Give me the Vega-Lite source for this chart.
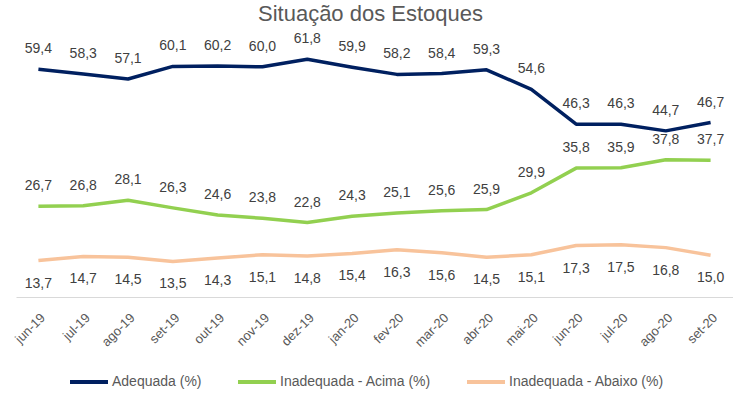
{
  "$schema": "https://vega.github.io/schema/vega-lite/v6.json",
  "width": 717,
  "height": 272,
  "autosize": {"type": "none"},
  "padding": {"left": 16, "top": 25, "right": 0, "bottom": 98},
  "background": "white",
  "title": {"text": "Situação dos Estoques", "fontSize": 22, "color": "#595959", "font": "Liberation Sans", "fontWeight": "normal", "anchor": "middle", "offset": -1, "dx": -4},
  "config": {
    "view": {"stroke": null},
    "locale": {"number": {"decimal": ",", "thousands": ".", "grouping": [3], "currency": ["R$", ""]}},
    "font": "Liberation Sans"
  },
  "data": {"values": [
    {"mes": "jun-19", "serie": "Adequada (%)", "valor": 59.4},
    {"mes": "jul-19", "serie": "Adequada (%)", "valor": 58.3},
    {"mes": "ago-19", "serie": "Adequada (%)", "valor": 57.1},
    {"mes": "set-19", "serie": "Adequada (%)", "valor": 60.1},
    {"mes": "out-19", "serie": "Adequada (%)", "valor": 60.2},
    {"mes": "nov-19", "serie": "Adequada (%)", "valor": 60.0},
    {"mes": "dez-19", "serie": "Adequada (%)", "valor": 61.8},
    {"mes": "jan-20", "serie": "Adequada (%)", "valor": 59.9},
    {"mes": "fev-20", "serie": "Adequada (%)", "valor": 58.2},
    {"mes": "mar-20", "serie": "Adequada (%)", "valor": 58.4},
    {"mes": "abr-20", "serie": "Adequada (%)", "valor": 59.3},
    {"mes": "mai-20", "serie": "Adequada (%)", "valor": 54.6},
    {"mes": "jun-20", "serie": "Adequada (%)", "valor": 46.3},
    {"mes": "jul-20", "serie": "Adequada (%)", "valor": 46.3},
    {"mes": "ago-20", "serie": "Adequada (%)", "valor": 44.7},
    {"mes": "set-20", "serie": "Adequada (%)", "valor": 46.7},
    {"mes": "jun-19", "serie": "Inadequada - Acima (%)", "valor": 26.7},
    {"mes": "jul-19", "serie": "Inadequada - Acima (%)", "valor": 26.8},
    {"mes": "ago-19", "serie": "Inadequada - Acima (%)", "valor": 28.1},
    {"mes": "set-19", "serie": "Inadequada - Acima (%)", "valor": 26.3},
    {"mes": "out-19", "serie": "Inadequada - Acima (%)", "valor": 24.6},
    {"mes": "nov-19", "serie": "Inadequada - Acima (%)", "valor": 23.8},
    {"mes": "dez-19", "serie": "Inadequada - Acima (%)", "valor": 22.8},
    {"mes": "jan-20", "serie": "Inadequada - Acima (%)", "valor": 24.3},
    {"mes": "fev-20", "serie": "Inadequada - Acima (%)", "valor": 25.1},
    {"mes": "mar-20", "serie": "Inadequada - Acima (%)", "valor": 25.6},
    {"mes": "abr-20", "serie": "Inadequada - Acima (%)", "valor": 25.9},
    {"mes": "mai-20", "serie": "Inadequada - Acima (%)", "valor": 29.9},
    {"mes": "jun-20", "serie": "Inadequada - Acima (%)", "valor": 35.8},
    {"mes": "jul-20", "serie": "Inadequada - Acima (%)", "valor": 35.9},
    {"mes": "ago-20", "serie": "Inadequada - Acima (%)", "valor": 37.8},
    {"mes": "set-20", "serie": "Inadequada - Acima (%)", "valor": 37.7},
    {"mes": "jun-19", "serie": "Inadequada - Abaixo (%)", "valor": 13.7},
    {"mes": "jul-19", "serie": "Inadequada - Abaixo (%)", "valor": 14.7},
    {"mes": "ago-19", "serie": "Inadequada - Abaixo (%)", "valor": 14.5},
    {"mes": "set-19", "serie": "Inadequada - Abaixo (%)", "valor": 13.5},
    {"mes": "out-19", "serie": "Inadequada - Abaixo (%)", "valor": 14.3},
    {"mes": "nov-19", "serie": "Inadequada - Abaixo (%)", "valor": 15.1},
    {"mes": "dez-19", "serie": "Inadequada - Abaixo (%)", "valor": 14.8},
    {"mes": "jan-20", "serie": "Inadequada - Abaixo (%)", "valor": 15.4},
    {"mes": "fev-20", "serie": "Inadequada - Abaixo (%)", "valor": 16.3},
    {"mes": "mar-20", "serie": "Inadequada - Abaixo (%)", "valor": 15.6},
    {"mes": "abr-20", "serie": "Inadequada - Abaixo (%)", "valor": 14.5},
    {"mes": "mai-20", "serie": "Inadequada - Abaixo (%)", "valor": 15.1},
    {"mes": "jun-20", "serie": "Inadequada - Abaixo (%)", "valor": 17.3},
    {"mes": "jul-20", "serie": "Inadequada - Abaixo (%)", "valor": 17.5},
    {"mes": "ago-20", "serie": "Inadequada - Abaixo (%)", "valor": 16.8},
    {"mes": "set-20", "serie": "Inadequada - Abaixo (%)", "valor": 15.0}
  ]},
  "encoding": {
    "x": {
      "field": "mes", "type": "nominal", "sort": null,
      "scale": {"type": "point", "padding": 0.5},
      "axis": {"title": null, "labelAngle": -45, "labelColor": "#595959", "labelFontSize": 13, "labelPadding": 14, "ticks": false, "domainColor": "#d9d9d9", "domainWidth": 1, "grid": false}
    },
    "y": {
      "field": "valor", "type": "quantitative",
      "scale": {"domain": [5, 70], "nice": false, "zero": false},
      "axis": null
    }
  },
  "layer": [
    {
      "mark": {"type": "line", "strokeWidth": 3.5, "strokeJoin": "round"},
      "encoding": {
        "color": {
          "field": "serie", "type": "nominal",
          "scale": {"domain": ["Adequada (%)", "Inadequada - Acima (%)", "Inadequada - Abaixo (%)"], "range": ["#002060", "#92D050", "#F8C39B"]},
          "legend": {
            "title": null, "orient": "none", "direction": "horizontal",
            "legendX": 52, "legendY": 336,
            "symbolType": "stroke", "symbolSize": 1444, "symbolStrokeWidth": 4,
            "labelFontSize": 14, "labelColor": "#595959", "labelOffset": 2,
            "columnPadding": 28, "labelLimit": 300
          }
        }
      }
    },
    {
      "transform": [{"filter": "datum.serie !== 'Inadequada - Abaixo (%)'"}],
      "mark": {"type": "text", "dy": -20, "fontSize": 14, "color": "#404040"},
      "encoding": {"text": {"field": "valor", "type": "quantitative", "format": ".1f"}}
    },
    {
      "transform": [{"filter": "datum.serie === 'Inadequada - Abaixo (%)'"}],
      "mark": {"type": "text", "dy": 23, "fontSize": 14, "color": "#404040"},
      "encoding": {"text": {"field": "valor", "type": "quantitative", "format": ".1f"}}
    }
  ]
}
